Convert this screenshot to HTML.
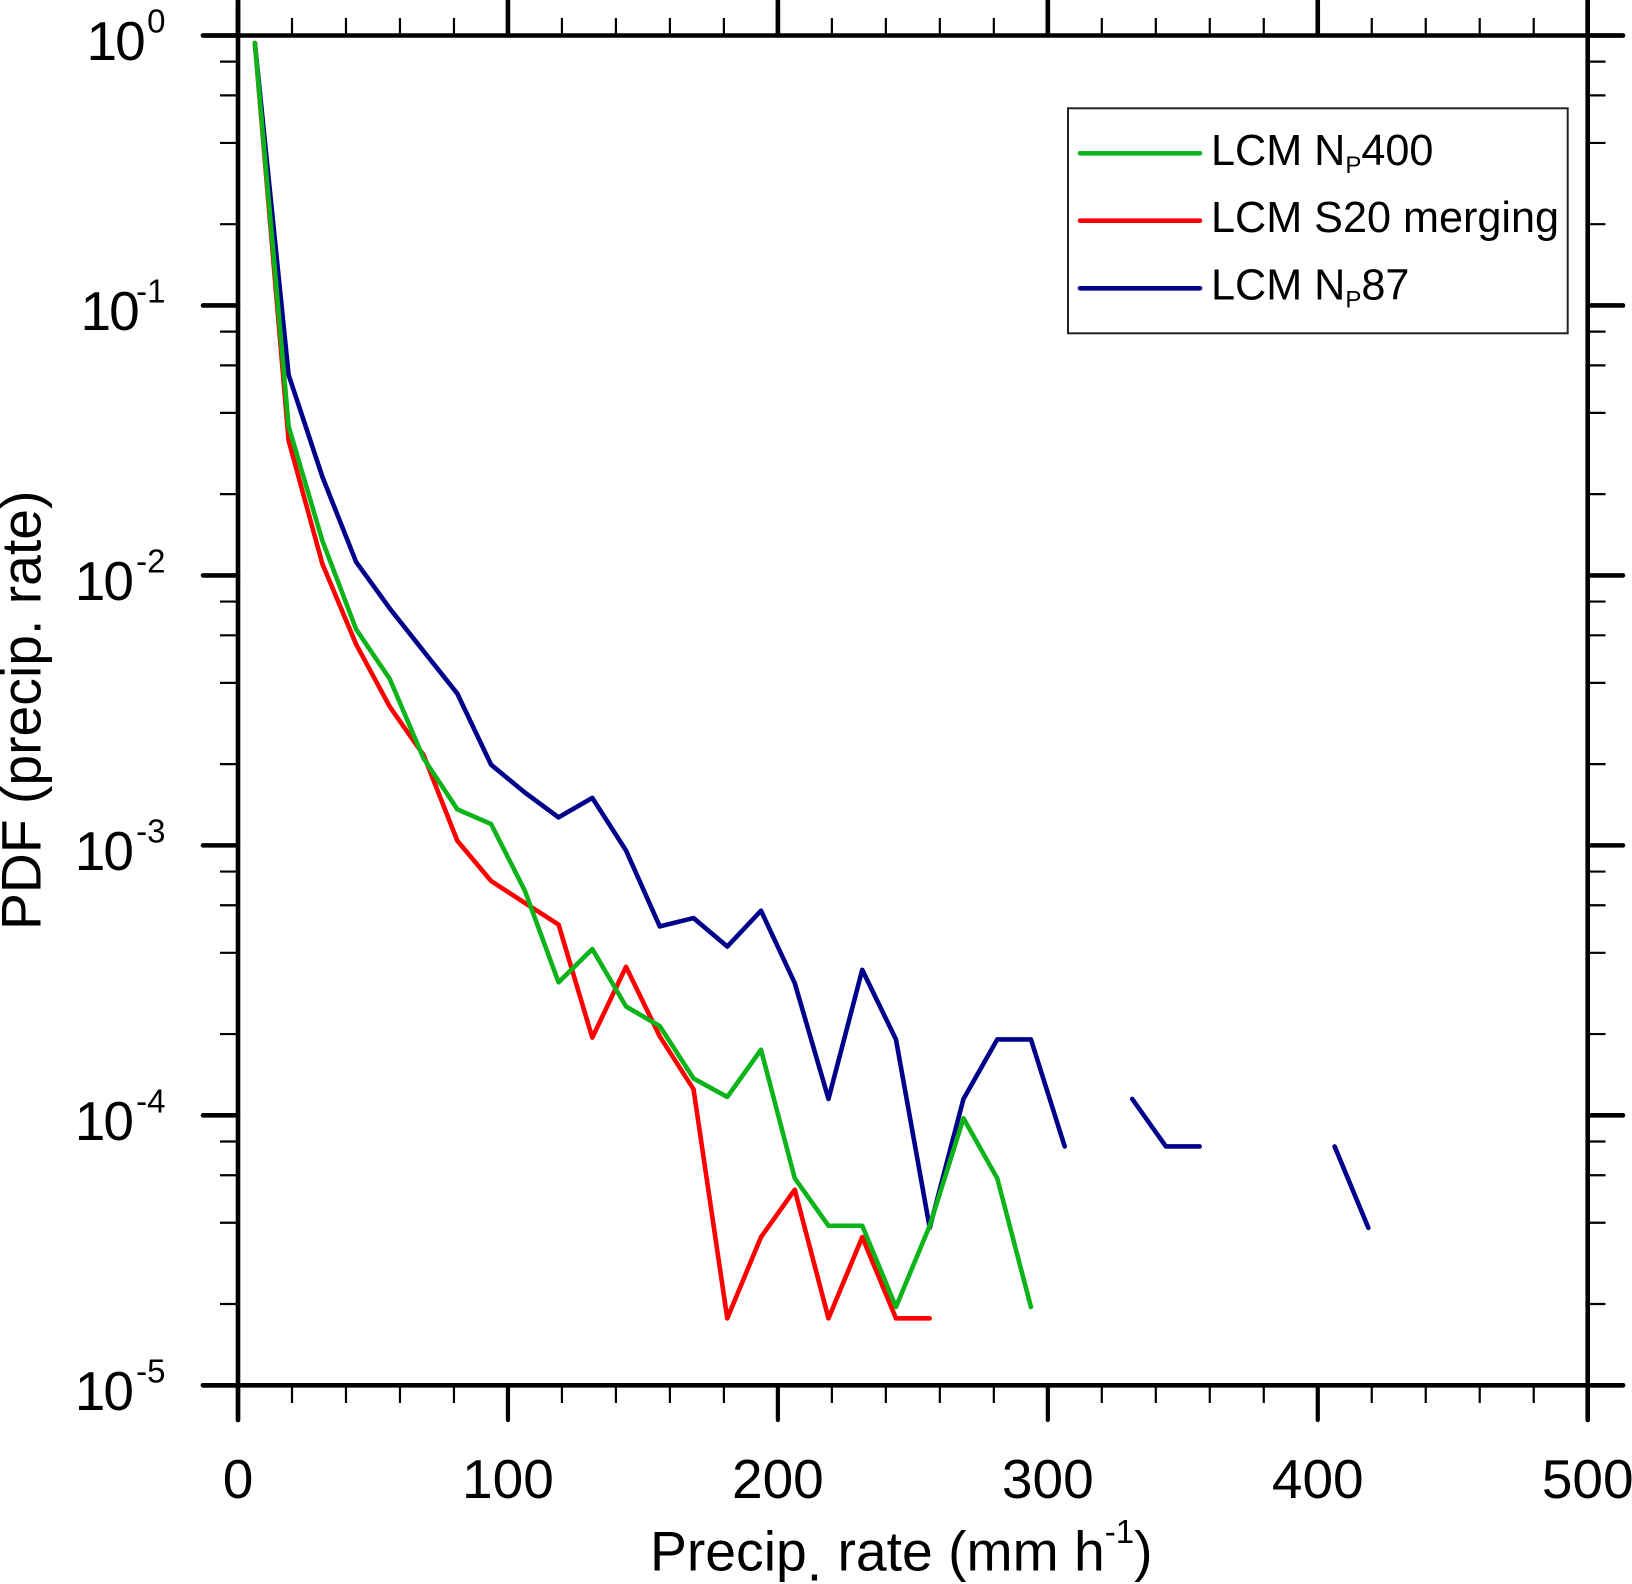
<!DOCTYPE html>
<html>
<head>
<meta charset="utf-8">
<title>Precip. rate PDF</title>
<style>
html,body{margin:0;padding:0;background:#fff;}
svg{display:block;}
text{font-family:"Liberation Sans",sans-serif;fill:#000;}
</style>
</head>
<body>
<svg id="chart" xmlns="http://www.w3.org/2000/svg" width="1632" height="1584" viewBox="0 0 1632 1584">
  <rect x="0" y="0" width="1632" height="1584" fill="#ffffff"/>
  <g id="series-layer"></g>
  <g id="axis-layer"></g>

  <text x="650" y="1570.5" font-size="55.3">Precip<tspan dy="10">.</tspan><tspan dy="-10"> rate (mm h</tspan><tspan dy="-27.5" font-size="33">-1</tspan><tspan dy="27.5">)</tspan></text>
  <text transform="translate(40.7,930) rotate(-90)" x="0" y="0" font-size="55.3">PDF (precip. rate)</text>

  <g>
    <rect x="1068" y="108.3" width="499.7" height="225" fill="#ffffff" stroke="#222222" stroke-width="2"/>
    <line x1="1080" y1="153.3" x2="1200" y2="153.3" stroke="#0cb41a" stroke-width="4.6" stroke-linecap="round"/>
    <text x="1211" y="165" font-size="43.2">LCM N<tspan dy="8" font-size="24">P</tspan><tspan dy="-8">400</tspan></text>
    <line x1="1080" y1="220.7" x2="1200" y2="220.7" stroke="#ff0000" stroke-width="4.6" stroke-linecap="round"/>
    <text x="1211" y="232" font-size="43.2">LCM S20 merging</text>
    <line x1="1080" y1="288.3" x2="1200" y2="288.3" stroke="#00008b" stroke-width="4.6" stroke-linecap="round"/>
    <text x="1211" y="299.7" font-size="43.2">LCM N<tspan dy="8" font-size="24">P</tspan><tspan dy="-8">87</tspan></text>
  </g>
</svg>

<script>
var binCenters = [6.25,18.75,31.25,43.75,56.25,68.75,81.25,93.75,106.25,118.75,131.25,143.75,156.25,168.75,181.25,193.75,206.25,218.75,231.25,243.75,256.25,268.75,281.25,293.75,306.25,318.75,331.25,343.75,356.25,368.75,381.25,393.75,406.25,418.75];
var seriesNp87 = [0.938,0.0553,0.0232,0.01122,0.00754,0.00524,0.00365,0.00199,0.00157,0.00127,0.0015,0.000957,0.000501,0.000538,0.000422,0.000573,0.000309,0.000115,0.000346,0.000191,0.0000383,0.000115,0.000191,0.000191,0.0000767,null,0.000115,0.0000767,0.0000767,null,null,null,0.0000767,0.0000383];
var seriesS20 = [0.938,0.0316,0.01104,0.00556,0.00326,0.00216,0.00104,0.000738,0.000612,0.000509,0.000194,0.000355,0.000196,0.000125,0.0000177,0.0000354,0.000053,0.0000177,0.0000354,0.0000177,0.0000177];
var seriesNp400 = [0.938,0.0357,0.01345,0.00632,0.00413,0.0021,0.00136,0.0012,0.00068,0.000311,0.000413,0.000253,0.000214,0.000137,0.000117,0.000175,0.0000585,0.000039,0.000039,0.0000195,0.000039,0.0000975,0.0000585,0.0000195];
var xTickLabels = [0,100,200,300,400,500];
var xMinorValues = [20,40,60,80,120,140,160,180,220,240,260,280,320,340,360,380,420,440,460,480];
var yDecadeExponents = [0,-1,-2,-3,-4,-5];
var yMinorMantissas = [2,4,6,8];

var SVGNS = 'http://www.w3.org/2000/svg';
var plotLeft = 238, plotRight = 1587.7, plotTop = 35.5, plotBottom = 1385.3;
var xMin = 0, xMax = 500, logMax = 0, logMin = -5;

function xScale(v) {
  return plotLeft + (v - xMin) / (xMax - xMin) * (plotRight - plotLeft);
}
function yScale(v) {
  return plotTop + (logMax - Math.log10(v)) / (logMax - logMin) * (plotBottom - plotTop);
}
function yLabelStart(e) {
  if (e === 0) return 89;
  if (e === -1) return 83;
  return 77.3;
}
function makeLine(parent, x1, y1, x2, y2, width) {
  var el = document.createElementNS(SVGNS, 'line');
  el.setAttribute('x1', x1);
  el.setAttribute('y1', y1);
  el.setAttribute('x2', x2);
  el.setAttribute('y2', y2);
  el.setAttribute('stroke', '#000');
  el.setAttribute('stroke-width', width);
  el.setAttribute('stroke-linecap', 'round');
  parent.appendChild(el);
  return el;
}
function drawSeries(values, color, name) {
  var d = '';
  var pen = false;
  for (var i = 0; i < values.length; i++) {
    if (values[i] === null) { pen = false; continue; }
    d += (pen ? 'L' : 'M') + xScale(binCenters[i]).toFixed(2) + ' ' + yScale(values[i]).toFixed(2);
    pen = true;
  }
  var el = document.createElementNS(SVGNS, 'path');
  el.setAttribute('d', d);
  el.setAttribute('fill', 'none');
  el.setAttribute('stroke', color);
  el.setAttribute('stroke-width', '4.6');
  el.setAttribute('stroke-linecap', 'round');
  el.setAttribute('stroke-linejoin', 'round');
  
  
  document.getElementById('series-layer').appendChild(el);
}
drawSeries(seriesNp87, '#00008b', 'series-line-np87');
drawSeries(seriesS20, '#ff0000', 'series-line-s20-merging');
drawSeries(seriesNp400, '#0cb41a', 'series-line-np400');

var axisLayer = document.getElementById('axis-layer');

var leftAxis = makeLine(axisLayer, plotLeft, 1, plotLeft, 1420, 4.6);


var rightAxis = makeLine(axisLayer, plotRight, 1, plotRight, 1420, 4.6);


var topAxis = makeLine(axisLayer, 203, plotTop, 1623, plotTop, 4.6);


var bottomAxis = makeLine(axisLayer, 203, plotBottom, 1623, plotBottom, 4.6);



xTickLabels.forEach(function (v) {
  var x = xScale(v);
  var top = makeLine(axisLayer, x, plotTop, x, 1, 4.6);
  
  
  var bot = makeLine(axisLayer, x, plotBottom, x, 1420, 4.2);
  
  
  var label = document.createElementNS(SVGNS, 'text');
  label.setAttribute('x', x);
  label.setAttribute('y', 1498);
  label.setAttribute('font-size', '55');
  label.setAttribute('text-anchor', 'middle');
  label.textContent = String(v);
  
  
  axisLayer.appendChild(label);
});

xMinorValues.forEach(function (v) {
  var x = xScale(v);
  var top = makeLine(axisLayer, x, plotTop, x, 18, 2.2);
  top.setAttribute('stroke-linecap', 'butt');
  
  
  var bot = makeLine(axisLayer, x, plotBottom, x, 1403, 2.2);
  bot.setAttribute('stroke-linecap', 'butt');
  
  
});

yDecadeExponents.forEach(function (e) {
  var y = yScale(Math.pow(10, e));
  var left = makeLine(axisLayer, plotLeft, y, 203, y, 4.6);
  
  
  var right = makeLine(axisLayer, plotRight, y, 1623, y, 4.6);
  
  

  var label = document.createElementNS(SVGNS, 'text');
  label.setAttribute('x', yLabelStart(e) - 2.5);
  label.setAttribute('y', y + 24.5);
  label.setAttribute('font-size', '55');
  label.setAttribute('letter-spacing', '-2');
  label.textContent = '10';
  
  
  axisLayer.appendChild(label);

  var sup = document.createElementNS(SVGNS, 'text');
  sup.setAttribute('x', 165.5);
  sup.setAttribute('y', y - 2.8);
  sup.setAttribute('text-anchor', 'end');
  sup.setAttribute('font-size', '33');
  sup.textContent = String(e);
  
  
  axisLayer.appendChild(sup);

  if (e > -5) {
    yMinorMantissas.forEach(function (m) {
      var my = yScale(m * Math.pow(10, e - 1));
      var ml = makeLine(axisLayer, plotLeft, my, 220, my, 2.2);
      ml.setAttribute('stroke-linecap', 'butt');
      
      
      var mr = makeLine(axisLayer, plotRight, my, 1605.5, my, 2.2);
      mr.setAttribute('stroke-linecap', 'butt');
      
      
    });
  }
});
</script>
</body>
</html>
